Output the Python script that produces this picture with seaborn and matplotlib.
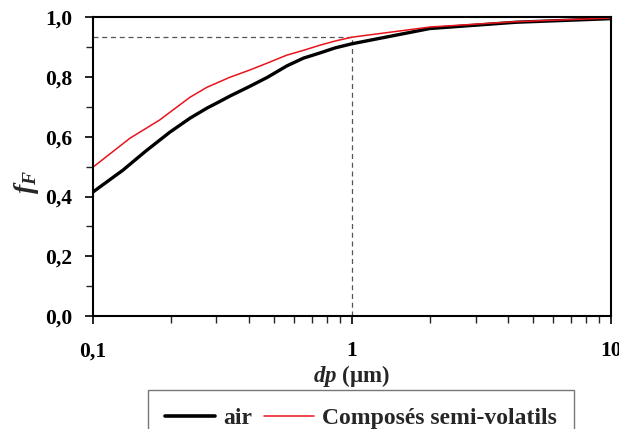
import numpy as np
import pandas as pd
import matplotlib
matplotlib.use("Agg")
import matplotlib.pyplot as plt
import seaborn as sns
from matplotlib.ticker import FuncFormatter, LogLocator, MultipleLocator

# diametre (um) et fraction cumulee f_F
dp_air = [0.1, 0.1305, 0.16, 0.198, 0.237, 0.276, 0.309, 0.338, 0.4, 0.47, 0.561, 0.65, 0.751, 0.86, 1.0, 2.0, 4.3, 10.0]
ff_air = [0.415, 0.488, 0.552, 0.615, 0.662, 0.696, 0.718, 0.736, 0.767, 0.798, 0.837, 0.863, 0.880, 0.897, 0.911, 0.962, 0.983, 0.995]

dp_svoc = [0.1, 0.139, 0.181, 0.237, 0.275, 0.338, 0.4, 0.47, 0.561, 0.65, 0.751, 0.86, 1.0, 2.0, 4.3, 10.0]
ff_svoc = [0.498, 0.595, 0.656, 0.732, 0.765, 0.799, 0.822, 0.846, 0.873, 0.889, 0.906, 0.920, 0.933, 0.967, 0.985, 0.997]

series_names = ["air", "Composés semi-volatils"]
ref_dp = 1.0
ref_ff = 0.932

df = pd.concat([
    pd.DataFrame({"dp": dp_air, "fF": ff_air, "serie": series_names[0]}),
    pd.DataFrame({"dp": dp_svoc, "fF": ff_svoc, "serie": series_names[1]}),
])

sns.set_style("ticks")
plt.rcParams["font.family"] = ["Liberation Serif", "DejaVu Serif"]
plt.rcParams["font.weight"] = "bold"
plt.rcParams["mathtext.fontset"] = "custom"
plt.rcParams["mathtext.it"] = "Liberation Serif:italic:bold"
plt.rcParams["mathtext.rm"] = "Liberation Serif:bold"

fig = plt.figure(figsize=(6.19, 4.29), dpi=100)
ax = fig.add_axes([0.150, 0.263, 0.837, 0.697])

sns.lineplot(data=df, x="dp", y="fF", hue="serie", size="serie",
             palette={series_names[0]: "black", series_names[1]: "#e8141c"},
             sizes={series_names[0]: 2.4, series_names[1]: 1.1},
             estimator=None, sort=True, ax=ax, legend=False)

# lignes de repere en pointilles
ax.plot([0.1, ref_dp], [ref_ff, ref_ff], color="#555555", lw=0.9, ls=(0, (4, 3)), zorder=1)
ax.plot([ref_dp, ref_dp], [0, ref_ff], color="#555555", lw=0.9, ls=(0, (4, 3)), zorder=1)

ax.set_xscale("log")
ax.set_xlim(0.1, 10)
ax.set_ylim(0, 1.0)
ax.yaxis.set_major_locator(MultipleLocator(0.2))
ax.yaxis.set_minor_locator(MultipleLocator(0.1))
ax.xaxis.set_major_locator(LogLocator(base=10))
ax.xaxis.set_minor_locator(LogLocator(base=10, subs=np.arange(2, 10)))
ax.xaxis.set_minor_formatter(FuncFormatter(lambda v, p: ""))

ax.yaxis.set_major_formatter(FuncFormatter(lambda v, p: f"{v:.1f}".replace(".", ",")))
ax.xaxis.set_major_formatter(FuncFormatter(lambda v, p: f"{v:g}".replace(".", ",")))

ax.tick_params(axis="both", which="major", direction="out", length=6, width=1.2,
               labelsize=15.5, colors="black")
ax.tick_params(axis="y", which="major", pad=9)
ax.tick_params(axis="x", which="major", pad=12)
ax.tick_params(axis="both", which="minor", direction="out", length=5, width=1.0)
for lab in ax.get_xticklabels() + ax.get_yticklabels():
    lab.set_fontweight("bold")

for s in ax.spines.values():
    s.set_visible(True)
    s.set_linewidth(1.5)
    s.set_color("black")

ax.set_xlabel(r"$dp$ (µm)", fontsize=16.5, fontweight="bold", labelpad=1)
ax.set_ylabel(r"$f_F$", fontsize=20, fontweight="bold")
ax.yaxis.set_label_coords(-0.10, 0.45)

handles = [plt.Line2D([], [], color="black", lw=2.6),
           plt.Line2D([], [], color="#e8141c", lw=1.1)]
leg = fig.legend(handles, series_names, loc="upper center",
                 bbox_to_anchor=(361 / 619, 1 - 390 / 429), ncol=2,
                 frameon=True, fancybox=False, borderpad=0.75, borderaxespad=0,
                 handlelength=2.1, handletextpad=0.35, columnspacing=0.5,
                 prop={"weight": "bold", "size": 17})
leg.get_frame().set_edgecolor("#555555")
leg.get_frame().set_linewidth(1.0)

fig.savefig("out.png", dpi=100)
